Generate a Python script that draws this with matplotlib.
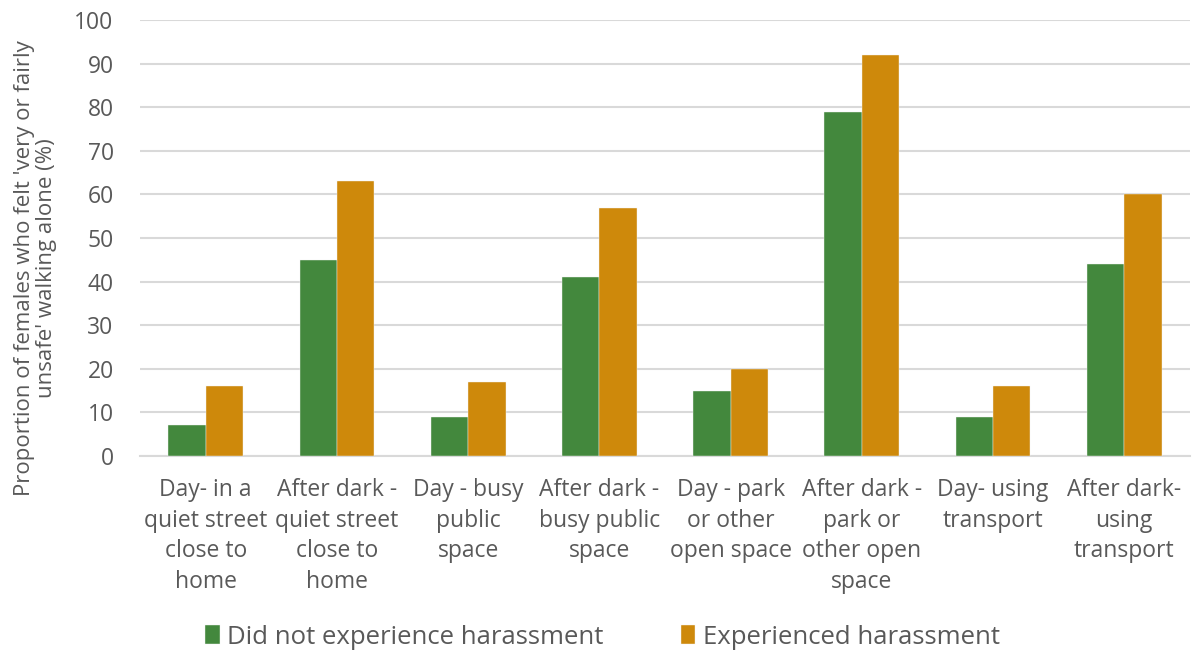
import numpy as np
import matplotlib.pyplot as plt

plt.rcParams['font.family'] = ['Open Sans', 'DejaVu Sans']

categories = ["Day- in a\nquiet street\nclose to\nhome",
              "After dark -\nquiet street\nclose to\nhome",
              "Day - busy\npublic\nspace",
              "After dark -\nbusy public\nspace",
              "Day - park\nor other\nopen space",
              "After dark -\npark or\nother open\nspace",
              "Day- using\ntransport",
              "After dark-\nusing\ntransport"]
no_harassment = [7, 45, 9, 41, 15, 79, 9, 44]
harassment = [16, 63, 17, 57, 20, 92, 16, 60]
series_names = ["Did not experience harassment", "Experienced harassment"]

green = "#43883D"
orange = "#CE890B"
txt = "#595959"

fig = plt.figure(figsize=(11.93, 6.5), dpi=100)
ax = fig.add_axes([0.1174, 0.2985, 0.880, 0.6705])

x = np.arange(len(categories))
w = 0.285
ax.bar(x - w/2, no_harassment, w, color=green, edgecolor="#F2F2F2", linewidth=0.3,
       label=series_names[0], zorder=3)
ax.bar(x + w/2, harassment, w, color=orange, edgecolor="#F2F2F2", linewidth=0.3,
       label=series_names[1], zorder=3)

ax.set_xlim(-0.5, len(categories) - 0.5)
ax.set_ylim(0, 100)
ax.set_yticks(range(0, 101, 10))
ax.yaxis.grid(True, color="#D9D9D9", linewidth=1.5, zorder=0)
ax.set_axisbelow(True)
for s in ["top", "right", "left"]:
    ax.spines[s].set_visible(False)
ax.spines["bottom"].set_color("#D9D9D9")
ax.spines["bottom"].set_linewidth(1.5)
ax.tick_params(axis="y", length=0, colors=txt, labelsize=16.5, pad=19)
ax.set_xticks(x)
ax.set_xticklabels(categories, linespacing=1.36)
ax.tick_params(axis="x", length=0, colors=txt, labelsize=16.5, pad=16)

ax.set_ylabel("Proportion of females who felt 'very or fairly\nunsafe' walking alone (%)",
              fontsize=16, color=txt, linespacing=1.1)
ax.yaxis.set_label_coords(-0.079, 0.43)

fig.legend(loc="lower center", bbox_to_anchor=(0.505, -0.035), ncol=2, frameon=False,
           fontsize=18.5, labelcolor=txt, handlelength=0.55, handleheight=0.75,
           columnspacing=3.0, handletextpad=0.3)

fig.savefig("out.png", dpi=100)
